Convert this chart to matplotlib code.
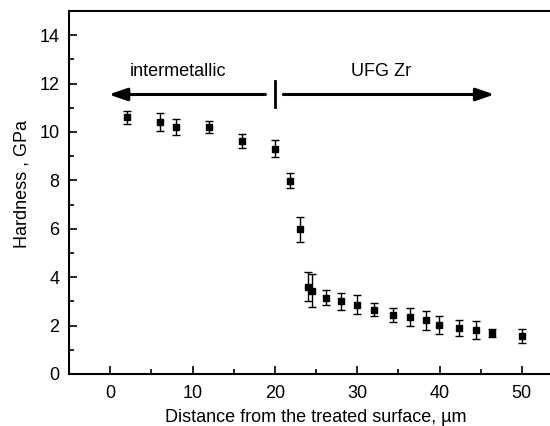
import matplotlib.pyplot as plt
import numpy as np
from matplotlib.ticker import MultipleLocator

plt.rcParams['font.family'] = ['Liberation Sans', 'DejaVu Sans']

# measured points
distance = [2.0, 6.0, 8.0, 12.0, 16.0, 20.0, 21.8, 23.0, 24.0, 24.5, 26.2, 28.0,
            30.0, 32.0, 34.3, 36.4, 38.4, 39.9, 42.4, 44.4, 46.4, 50.0]
hardness = [10.6, 10.42, 10.2, 10.21, 9.62, 9.3, 7.99, 5.98, 3.6, 3.45, 3.16, 3.0,
            2.87, 2.66, 2.44, 2.35, 2.22, 2.02, 1.9, 1.82, 1.68, 1.56]
err = [0.28, 0.36, 0.34, 0.24, 0.29, 0.35, 0.31, 0.51, 0.6, 0.7, 0.3, 0.34,
       0.4, 0.26, 0.3, 0.36, 0.4, 0.38, 0.32, 0.39, 0.16, 0.29]

fs = 13

fig = plt.figure(figsize=(5.5, 4.26), dpi=100)
ax = fig.add_axes([69/550, 52/426, 494/550, 363/426])

ax.errorbar(distance, hardness, yerr=err, fmt='s', color='black', ms=5,
            elinewidth=1.0, capsize=3, capthick=1.0)

# region arrows
ax.annotate('', xy=(-0.5, 11.55), xytext=(19.2, 11.55),
            arrowprops=dict(arrowstyle='-|>,head_length=1.1,head_width=0.38', color='black', lw=2.2))
ax.annotate('', xy=(47.0, 11.55), xytext=(20.7, 11.55),
            arrowprops=dict(arrowstyle='-|>,head_length=1.1,head_width=0.38', color='black', lw=2.2))
ax.plot([20, 20], [11.05, 12.12], color='black', lw=2)
ax.text(8.2, 12.48, 'intermetallic', ha='center', va='center', fontsize=fs)
ax.text(32.9, 12.48, 'UFG Zr', ha='center', va='center', fontsize=fs)

ax.set_xlim(-5, 55)
ax.set_ylim(0, 15)
ax.xaxis.set_major_locator(MultipleLocator(10))
ax.xaxis.set_minor_locator(MultipleLocator(5))
ax.yaxis.set_major_locator(MultipleLocator(2))
ax.yaxis.set_minor_locator(MultipleLocator(1))
ax.tick_params(which='both', direction='in', top=False, right=False, labelsize=fs, width=1.2)
ax.tick_params(which='major', length=6)
ax.tick_params(which='minor', length=3.5)
ax.tick_params(axis='x', pad=8)
ax.tick_params(axis='y', pad=7)
for s in ax.spines.values():
    s.set_linewidth(1.5)

ax.set_xlabel('Distance from the treated surface, \u00b5m', fontsize=fs)
ax.set_ylabel('Hardness , GPa', fontsize=fs)
ax.xaxis.set_label_coords(0.5, -48/363)
ax.xaxis.label.set_va('baseline')
ax.yaxis.set_label_coords(-47/494, 190/363)
ax.yaxis.label.set_va('center')

fig.savefig('out.png', dpi=100)
